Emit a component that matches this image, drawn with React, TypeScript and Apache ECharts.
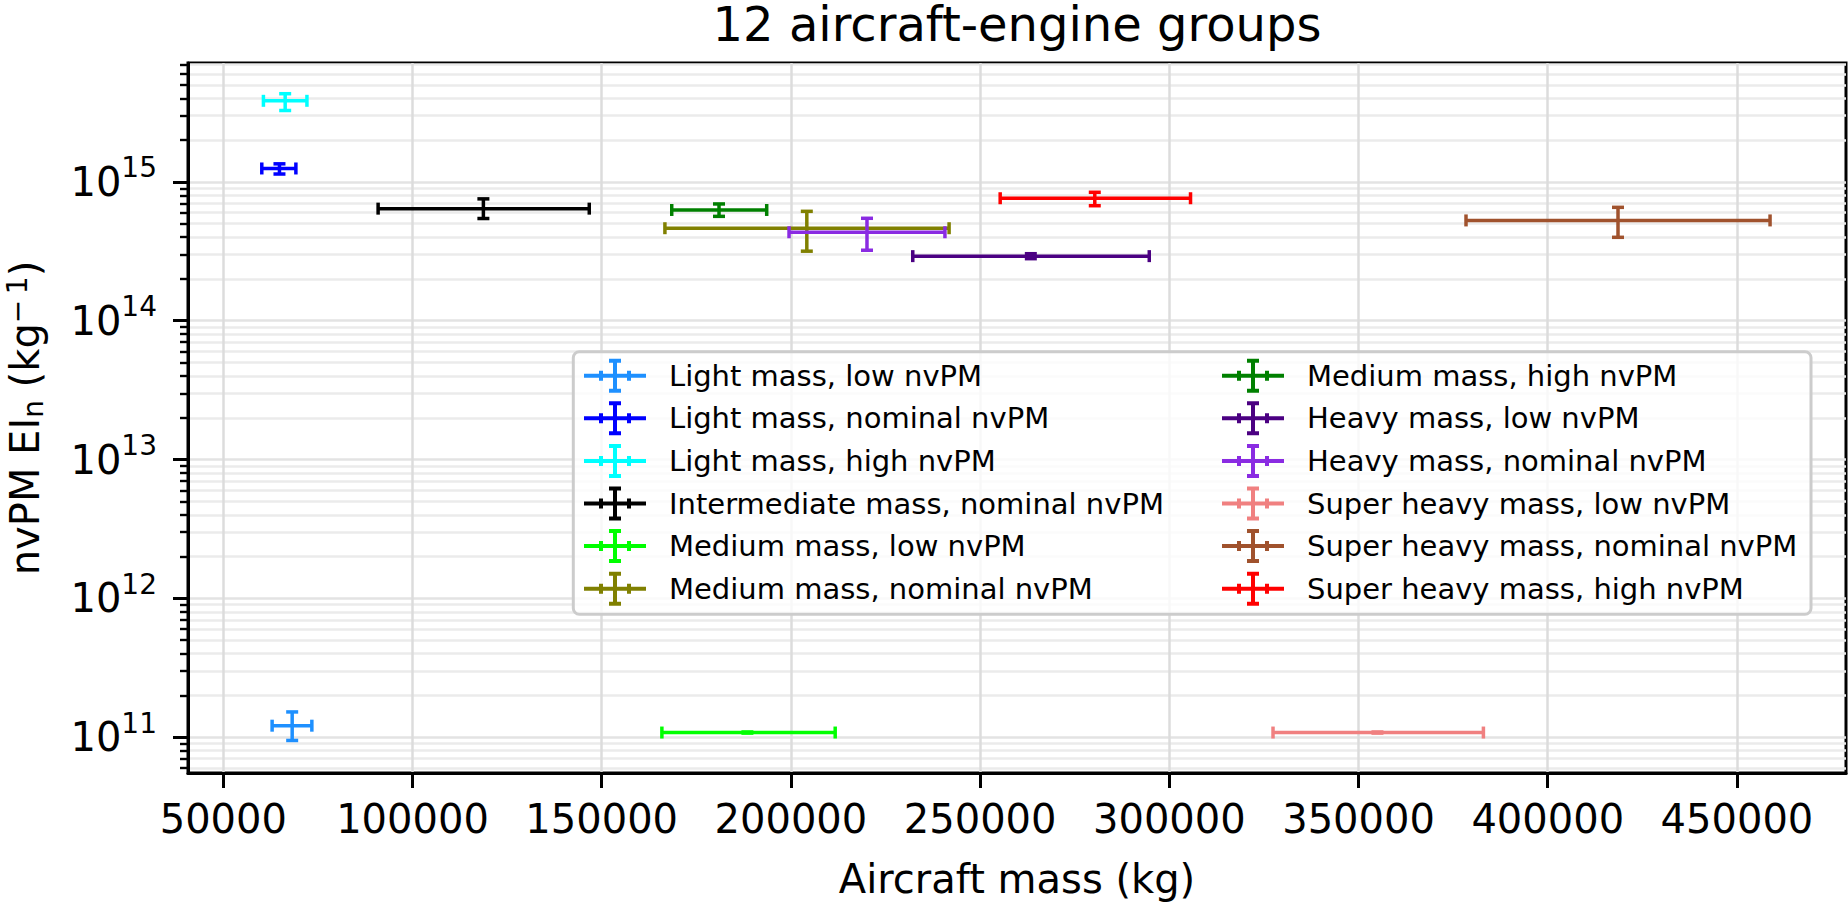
import React, { useEffect, useRef } from "react";
import * as echarts from "echarts";

// 12 aircraft-engine groups, in plotting order
const groupNames = [
  "Light mass, low nvPM",
  "Light mass, nominal nvPM",
  "Light mass, high nvPM",
  "Intermediate mass, nominal nvPM",
  "Medium mass, low nvPM",
  "Medium mass, nominal nvPM",
  "Medium mass, high nvPM",
  "Heavy mass, low nvPM",
  "Heavy mass, nominal nvPM",
  "Super heavy mass, low nvPM",
  "Super heavy mass, nominal nvPM",
  "Super heavy mass, high nvPM",
];
const groupColors = [
  "#1e90ff", "#0000ff", "#00ffff", "#000000", "#00ff00", "#808000",
  "#008000", "#4b0082", "#8a2be2", "#f08080", "#a0522d", "#ff0000",
];

// aircraft mass (kg): centre and error-bar ends
const massCenter = [68200, 64840, 66350, 118730, 188500, 204200, 181000, 263400, 220100, 355000, 418570, 280300];
const massLow = [62900, 60170, 60600, 90910, 165900, 166700, 168500, 232200, 199500, 327400, 378400, 255300];
const massHigh = [73400, 69180, 72100, 146710, 211700, 241800, 193600, 294700, 240700, 383000, 458750, 305600];

// nvPM EIn (kg^-1): centre and error-bar ends
const eiCenter = [1.21e11, 1.25e15, 3.84e15, 6.42e14, 1.08e11, 4.64e14, 6.28e14, 2.92e14, 4.34e14, 1.08e11, 5.28e14, 7.63e14];
const eiLow = [0.947e11, 1.14e15, 3.27e15, 5.45e14, 1.07e11, 3.17e14, 5.65e14, 2.8e14, 3.22e14, 1.07e11, 3.99e14, 6.74e14];
const eiHigh = [1.52e11, 1.35e15, 4.32e15, 7.55e14, 1.09e11, 6.14e14, 6.94e14, 3.04e14, 5.47e14, 1.09e11, 6.56e14, 8.42e14];

// axes
const massTicks = [50000, 100000, 150000, 200000, 250000, 300000, 350000, 400000, 450000];
const eiTicks = [1e11, 1e12, 1e13, 1e14, 1e15];
const minorMultipliers = [2, 3, 4, 5, 6, 7, 8, 9];
const minorDecades = [1e10, 1e11, 1e12, 1e13, 1e14, 1e15];

const X_MIN = 40670;
const X_MAX = 478820;
const Y_MIN = 5.52e10;
const Y_MAX = 7.19e15;

const FONT = "DejaVu Sans";
const BAR_W = 3.5;
const CAP = 12;

const eiMinorTicks = minorDecades
  .flatMap((d) => minorMultipliers.map((m) => m * d))
  .filter((v) => v > Y_MIN && v < Y_MAX);

// legend handle: x error bar + y error bar with caps (62 x 34 box)
const LEGEND_ICON =
  "path://M0,15 H62 V19 H0 Z M29,0 H33 V34 H29 Z M25,0 H37 V4 H25 Z M25,30 H37 V34 H25 Z M15,12 H19 V22 H15 Z M43,12 H47 V22 H43 Z";

const renderErrorBar = (color: string) => (_params: any, api: any) => {
  const c = api.coord([api.value(0), api.value(1)]);
  const xl = api.coord([api.value(2), api.value(1)]);
  const xh = api.coord([api.value(3), api.value(1)]);
  const yl = api.coord([api.value(0), api.value(4)]);
  const yh = api.coord([api.value(0), api.value(5)]);
  const style = { stroke: color, lineWidth: BAR_W };
  const h = CAP / 2;
  const line = (x1: number, y1: number, x2: number, y2: number) => ({
    type: "line",
    shape: { x1, y1, x2, y2 },
    style,
  });
  return {
    type: "group",
    children: [
      line(xl[0], c[1], xh[0], c[1]),
      line(c[0], yl[1], c[0], yh[1]),
      line(xl[0], c[1] - h, xl[0], c[1] + h),
      line(xh[0], c[1] - h, xh[0], c[1] + h),
      line(c[0] - h, yl[1], c[0] + h, yl[1]),
      line(c[0] - h, yh[1], c[0] + h, yh[1]),
    ],
  };
};

const legendBase = {
  orient: "vertical",
  top: 358.7,
  padding: 0,
  itemWidth: 62,
  itemHeight: 34,
  itemGap: 8.6,
  icon: LEGEND_ICON,
  textStyle: { fontSize: 29, color: "#000", fontFamily: FONT, padding: [0, 0, 0, 18] },
};

const App: React.FC = () => {
  const chartRef = useRef<HTMLDivElement>(null);

  useEffect(() => {
    if (!chartRef.current) return;
    const chart = echarts.init(chartRef.current, null, { renderer: "svg" });

    const series = groupNames.map((name, i) => ({
      name,
      type: "custom",
      xAxisIndex: 0,
      yAxisIndex: 0,
      z: 3,
      itemStyle: { color: groupColors[i] },
      encode: { x: [0, 2, 3], y: [1, 4, 5] },
      data: [[massCenter[i], eiCenter[i], massLow[i], massHigh[i], eiLow[i], eiHigh[i]]],
      renderItem: renderErrorBar(groupColors[i]),
    }));

    const option = {
      animation: false,
      textStyle: { fontFamily: FONT },
      title: {
        text: "12 aircraft-engine groups",
        left: 1017,
        top: 0,
        padding: 0,
        textAlign: "center",
        textStyle: { fontSize: 48, lineHeight: 48, fontWeight: "normal", color: "#000", fontFamily: FONT },
      },
      grid: {
        left: 188,
        right: 2,
        top: 63,
        bottom: 130,
        show: true,
        borderColor: "#000",
        borderWidth: 3,
        backgroundColor: "transparent",
        outerBoundsMode: "none",
      },
      legend: [
        { ...legendBase, left: 584, data: groupNames.slice(0, 6) },
        { ...legendBase, left: 1222, data: groupNames.slice(6) },
      ],
      graphic: [
        {
          type: "rect",
          z: 3,
          shape: { x: 573.3, y: 351.7, width: 1237.7, height: 262.6, r: 6 },
          style: { fill: "rgba(255,255,255,0.8)", stroke: "#cccccc", lineWidth: 3 },
        },
      ],
      xAxis: {
        type: "value",
        min: X_MIN,
        max: X_MAX,
        name: "Aircraft mass (kg)",
        nameLocation: "middle",
        nameGap: 86,
        nameTextStyle: { fontSize: 40, color: "#000", fontFamily: FONT },
        axisLine: { show: true, onZero: false, lineStyle: { color: "#000", width: 3 } },
        axisTick: { show: true, customValues: massTicks, length: 15, lineStyle: { color: "#000", width: 3 } },
        axisLabel: {
          customValues: massTicks,
          margin: 26,
          fontSize: 40,
          color: "#000",
          fontFamily: FONT,
          formatter: (v: number) => String(v),
        },
        splitLine: { show: true, lineStyle: { color: "#dcdcdc", width: 2.5 } },
      },
      yAxis: [
        {
          type: "log",
          logBase: 10,
          min: Y_MIN,
          max: Y_MAX,
          position: "left",
          name: "{n|nvPM EI}{sub|n}{n| (kg}{sup|\u2212\u20091}{n|)}",
          nameLocation: "middle",
          nameGap: 141,
          nameRotate: 90,
          nameTextStyle: {
            fontSize: 40,
            color: "#000",
            fontFamily: FONT,
            rich: {
              n: { fontSize: 40, lineHeight: 44, verticalAlign: "middle", fontFamily: FONT, color: "#000" },
              sub: { fontSize: 28, lineHeight: 28, verticalAlign: "bottom", fontFamily: FONT, color: "#000" },
              sup: { fontSize: 28, lineHeight: 30, verticalAlign: "top", fontFamily: FONT, color: "#000" },
            },
          },
          axisLine: { show: true, onZero: false, lineStyle: { color: "#000", width: 3 } },
          axisTick: { show: true, customValues: eiTicks, length: 15, lineStyle: { color: "#000", width: 3 } },
          axisLabel: {
            customValues: eiTicks,
            margin: 31,
            color: "#000",
            formatter: (v: number) => `{b|10}{s|${Math.round(Math.log10(v))}}`,
            rich: {
              b: { fontSize: 40, lineHeight: 56, verticalAlign: "middle", fontFamily: FONT, color: "#000" },
              s: { fontSize: 28, lineHeight: 34, verticalAlign: "top", fontFamily: FONT, color: "#000" },
            },
          },
          splitLine: { show: true, lineStyle: { color: "#e3e3e3", width: 2.5 } },
        },
        {
          type: "log",
          logBase: 10,
          min: Y_MIN,
          max: Y_MAX,
          position: "left",
          axisLine: { show: false },
          axisTick: { show: true, customValues: eiMinorTicks, length: 8, lineStyle: { color: "#000", width: 2.4 } },
          axisLabel: { show: false },
          splitLine: { show: true, lineStyle: { color: "#ebebeb", width: 2.5 } },
        },
      ],
      series,
    };

    chart.setOption(option as any);

    return () => {
      chart.dispose();
    };
  }, []);

  return (
    <div
      ref={chartRef}
      style={{ position: "fixed", left: 0, top: 0, width: "100vw", height: "100vh", background: "#fff" }}
    />
  );
};

export default App;
